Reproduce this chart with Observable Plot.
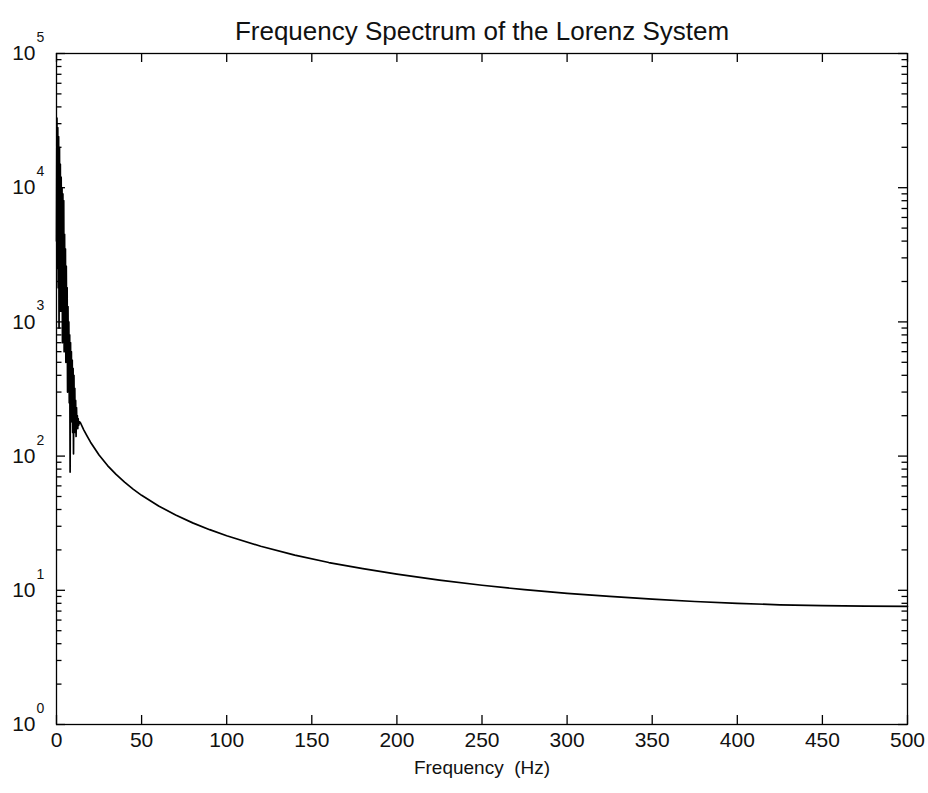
<!DOCTYPE html>
<html><head><meta charset="utf-8">
<script src="https://cdn.jsdelivr.net/npm/d3@7"></script>
<script src="https://cdn.jsdelivr.net/npm/@observablehq/plot@0.6"></script>
<style>body{margin:0;background:#fff;}</style>
</head><body><div id="chart"></div>
<script>
// Low-frequency, noisy part of the spectrum (Hz, magnitude)
const lowFreq = [0.00,0.25,0.50,0.75,1.00,1.25,1.50,1.75,2.00,2.25,2.50,2.75,3.00,3.25,3.50,3.75,4.00,4.25,4.50,4.75,5.00,5.25,5.50,5.75,6.00,6.25,6.50,6.75,7.00,7.25,7.50,7.75,8.00,8.25,8.50,8.75,9.00,9.25,9.50,9.75,10.00,10.25,10.50,10.75,11.00,11.25,11.50,11.75,12.00,12.25,12.50,12.75,13.00,13.50];
const lowMag  = [4000,33000,2500,28000,1800,24000,900,20000,3000,15000,1200,12000,2500,10000,700,9000,1500,8000,600,4500,1100,3500,500,2600,800,1800,300,1300,400,1000,250,800,76,700,200,600,180,520,150,450,104,400,170,320,150,260,140,230,170,200,160,190,170,180];
// Smooth tail of the spectrum
const tailFreq = [14,16,18,20,25,30,35,40,45,50,60,70,80,90,100,120,140,160,180,200,225,250,275,300,325,350,375,400,425,450,475,500];
const tailMag  = [178,157,141,127,102,85,73,64,56.8,51,42.5,36.4,31.8,28.3,25.5,21.3,18.3,16.1,14.5,13.2,11.9,10.9,10.1,9.5,9.0,8.6,8.25,8.0,7.8,7.7,7.62,7.6];

const xTickValues = [0,50,100,150,200,250,300,350,400,450,500];
const yDecades = [1,10,100,1000,10000,100000];
const yExponents = ["0","1","2","3","4","5"];
const titleText = "Frequency Spectrum of the Lorenz System";
const xLabelText = "Frequency  (Hz)";

const W = 928, H = 793, mL = 56, mR = 21, mT = 53, mB = 69;
const innerW = W - mL - mR, innerH = H - mT - mB;
const spectrum = lowFreq.map((f, i) => ({f, m: lowMag[i]}))
  .concat(tailFreq.map((f, i) => ({f, m: tailMag[i]})));
const yMinor = [];
for (let k = 0; k < 5; k++) for (let j = 2; j <= 9; j++) yMinor.push(j * Math.pow(10, k));
const yLab = yDecades.map((v, i) => ({v, e: yExponents[i]}));

const FONT = '"Liberation Sans", Arial, sans-serif';
const majorLen = 9, minorLen = 5.5;

const chart = Plot.plot({
  width: W, height: H,
  marginLeft: mL, marginRight: mR, marginTop: mT, marginBottom: mB,
  style: {fontFamily: FONT, background: "white", color: "black"},
  x: {domain: [0, 500], axis: null},
  y: {type: "log", domain: [1, 1e5], axis: null},
  marks: [
    Plot.line(spectrum, {x: "f", y: "m", stroke: "black", strokeWidth: 1.7}),
    Plot.ruleX(xTickValues, {x: d => d, insetTop: innerH - majorLen, stroke: "black", strokeWidth: 1.3}),
    Plot.ruleX(xTickValues, {x: d => d, insetBottom: innerH - majorLen, stroke: "black", strokeWidth: 1.3}),
    Plot.ruleY(yDecades, {y: d => d, insetRight: innerW - majorLen, stroke: "black", strokeWidth: 1.3}),
    Plot.ruleY(yDecades, {y: d => d, insetLeft: innerW - majorLen, stroke: "black", strokeWidth: 1.3}),
    Plot.ruleY(yMinor, {y: d => d, insetRight: innerW - minorLen, stroke: "black", strokeWidth: 1.3}),
    Plot.ruleY(yMinor, {y: d => d, insetLeft: innerW - minorLen, stroke: "black", strokeWidth: 1.3}),
    Plot.frame({stroke: "black", strokeWidth: 1.3}),
    Plot.text(xTickValues, {x: d => d, frameAnchor: "bottom", dy: 22, text: d => String(d), fontSize: 21, fill: "#111"}),
    Plot.text(yLab, {y: "v", frameAnchor: "left", dx: -21, textAnchor: "end", text: () => "10", fontSize: 21, fill: "#111"}),
    Plot.text(yLab, {y: "v", frameAnchor: "left", dx: -20, dy: -16, textAnchor: "start", text: "e", fontSize: 14, fill: "#111"}),
    Plot.text([titleText], {frameAnchor: "top", dy: -32, text: d => d, fontSize: 26, fill: "#111"}),
    Plot.text([xLabelText], {frameAnchor: "bottom", dy: 49, text: d => d, fontSize: 19, fill: "#111"})
  ]
});
document.getElementById("chart").appendChild(chart);
</script>
</body></html>
